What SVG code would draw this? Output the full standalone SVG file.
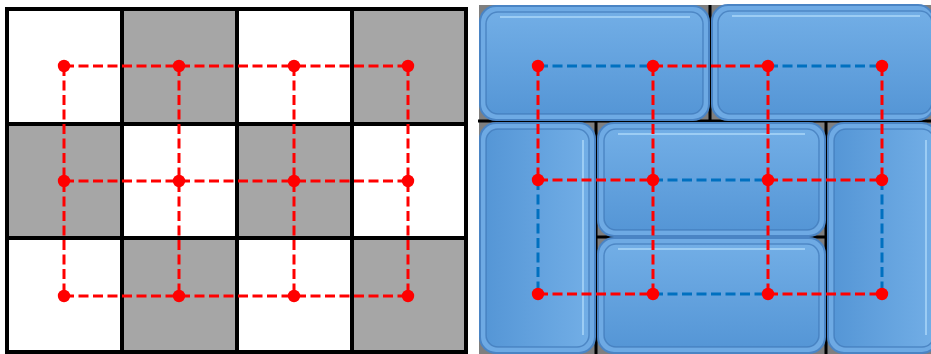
<svg xmlns="http://www.w3.org/2000/svg" width="931" height="354" viewBox="0 0 931 354">
<defs>
<linearGradient id="body" x1="0" y1="0" x2="0" y2="1">
<stop offset="0" stop-color="#72aee6"/>
<stop offset="1" stop-color="#5596d6"/>
</linearGradient>
<linearGradient id="bodyV" x1="0" y1="0" x2="1" y2="0">
<stop offset="0" stop-color="#5596d6"/>
<stop offset="1" stop-color="#72aee6"/>
</linearGradient>
<style>
.cw{fill:#ffffff}
.cg{fill:#a6a6a6}
.gl{stroke:#000;stroke-width:4;fill:none}
.r{stroke:#ff0000;stroke-width:3;stroke-dasharray:10 4.5;fill:none}
.b{stroke:#0070c0;stroke-width:3;stroke-dasharray:10 4.5;fill:none}
.dot{fill:#ff0000}
.rim{fill:#6eaae4;stroke:#4a84c4;stroke-width:2}
.inner{stroke:#3f78b8;stroke-width:1.5;stroke-opacity:0.7}
.hl{stroke:#a8d4f8;stroke-width:2;fill:none;stroke-opacity:0.8}
</style>
</defs>
<rect width="931" height="354" fill="#fff"/>

<g id="left-grid">
<rect class="cw" x="7" y="9" width="115" height="115"/>
<rect class="cg" x="122" y="9" width="115" height="115"/>
<rect class="cw" x="237" y="9" width="115" height="115"/>
<rect class="cg" x="352" y="9" width="114" height="115"/>
<rect class="cg" x="7" y="124" width="115" height="114"/>
<rect class="cw" x="122" y="124" width="115" height="114"/>
<rect class="cg" x="237" y="124" width="115" height="114"/>
<rect class="cw" x="352" y="124" width="114" height="114"/>
<rect class="cw" x="7" y="238" width="115" height="114"/>
<rect class="cg" x="122" y="238" width="115" height="114"/>
<rect class="cw" x="237" y="238" width="115" height="114"/>
<rect class="cg" x="352" y="238" width="114" height="114"/>
<rect class="gl" x="7" y="9" width="459" height="343"/>
<path class="gl" d="M122 9V352M237 9V352M352 9V352M7 124H466M7 238H466"/>
</g>

<g id="right-bg">
<rect x="479" y="5" width="452" height="349" fill="#7f7f7f"/>
<path d="M596 120V354M710 5V122M826 120V354M478 121H931M596 237H826" stroke="#000" stroke-width="3"/>
</g>

<g id="tile1">
<rect class="rim" x="480" y="6" width="229" height="114" rx="16"/>
<rect class="inner" x="486" y="12" width="217" height="102" rx="12" fill="url(#body)"/>
<path class="hl" d="M500 17H690"/>
</g>
<g id="tile2">
<rect class="rim" x="712" y="5" width="222" height="115" rx="16"/>
<rect class="inner" x="718" y="11" width="214" height="103" rx="12" fill="url(#body)"/>
<path class="hl" d="M732 16H920"/>
</g>
<g id="tile3">
<rect class="rim" x="480" y="123" width="115" height="230" rx="16"/>
<rect class="inner" x="486" y="129" width="103" height="218" rx="12" fill="url(#bodyV)"/>
<path class="hl" d="M583 140V335"/>
</g>
<g id="tile4">
<rect class="rim" x="598" y="123" width="227" height="113" rx="16"/>
<rect class="inner" x="604" y="129" width="215" height="101" rx="12" fill="url(#body)"/>
<path class="hl" d="M618 134H805"/>
</g>
<g id="tile5">
<rect class="rim" x="598" y="238" width="227" height="115" rx="16"/>
<rect class="inner" x="604" y="244" width="215" height="103" rx="12" fill="url(#body)"/>
<path class="hl" d="M618 249H805"/>
</g>
<g id="tile6">
<rect class="rim" x="828" y="123" width="110" height="230" rx="16"/>
<rect class="inner" x="834" y="129" width="100" height="218" rx="12" fill="url(#bodyV)"/>
<path class="hl" d="M926 140V335"/>
</g>

<g id="connectors">
<path class="r" d="M64 66H408M64 181H408M64 296H408M64 66V296M179 66V296M294 66V296M408 66V296"/>
<path class="b" d="M538 66H653M768 66H882M653 180H768M653 294H768M538 180V294M882 180V294"/>
<path class="r" d="M653 66H768M538 66V180M653 66V294M768 66V294M882 66V180M538 180H653M768 180H882M538 294H653M768 294H882"/>
</g>

<g id="nodes">
<circle class="dot" cx="64" cy="66" r="6.2"/><circle class="dot" cx="179" cy="66" r="6.2"/><circle class="dot" cx="294" cy="66" r="6.2"/><circle class="dot" cx="408" cy="66" r="6.2"/>
<circle class="dot" cx="64" cy="181" r="6.2"/><circle class="dot" cx="179" cy="181" r="6.2"/><circle class="dot" cx="294" cy="181" r="6.2"/><circle class="dot" cx="408" cy="181" r="6.2"/>
<circle class="dot" cx="64" cy="296" r="6.2"/><circle class="dot" cx="179" cy="296" r="6.2"/><circle class="dot" cx="294" cy="296" r="6.2"/><circle class="dot" cx="408" cy="296" r="6.2"/>
<circle class="dot" cx="538" cy="66" r="6.2"/><circle class="dot" cx="653" cy="66" r="6.2"/><circle class="dot" cx="768" cy="66" r="6.2"/><circle class="dot" cx="882" cy="66" r="6.2"/>
<circle class="dot" cx="538" cy="180" r="6.2"/><circle class="dot" cx="653" cy="180" r="6.2"/><circle class="dot" cx="768" cy="180" r="6.2"/><circle class="dot" cx="882" cy="180" r="6.2"/>
<circle class="dot" cx="538" cy="294" r="6.2"/><circle class="dot" cx="653" cy="294" r="6.2"/><circle class="dot" cx="768" cy="294" r="6.2"/><circle class="dot" cx="882" cy="294" r="6.2"/>
</g>
</svg>
